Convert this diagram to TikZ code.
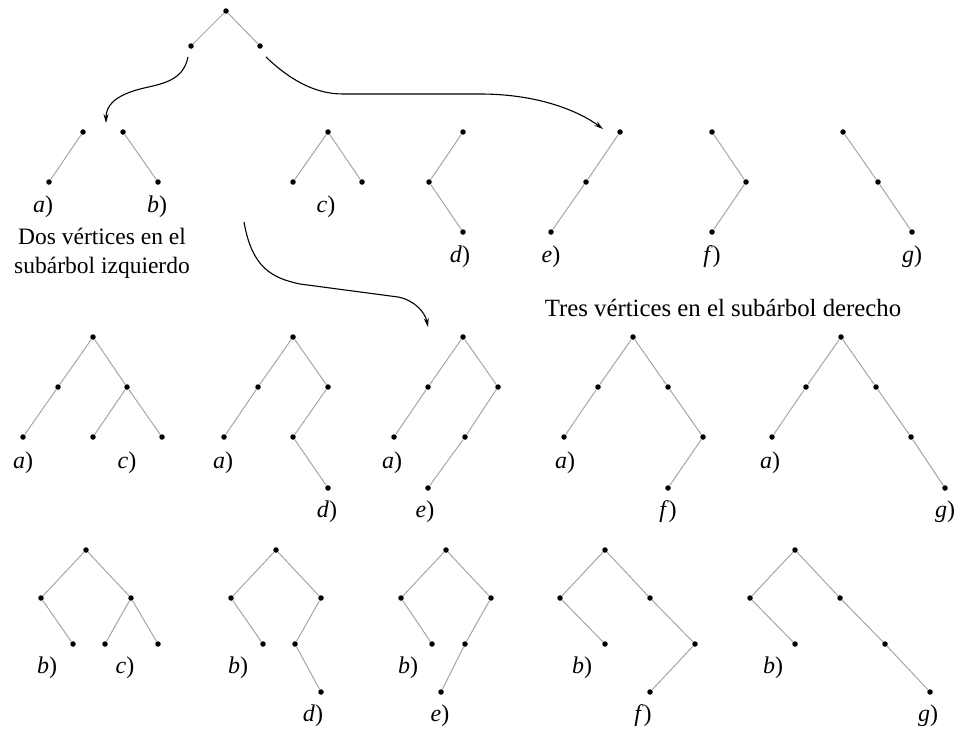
\documentclass[tikz,border=0pt]{standalone}
\usepackage{fontspec}
\setmainfont{Liberation Serif}
\usetikzlibrary{arrows.meta}
\tikzset{
  dot/.style={circle,fill=black,inner sep=0pt,minimum size=5.5pt},
  edge/.style={draw=black!35,line width=1pt},
  lbl/.style={inner sep=0pt,font=\fontsize{24}{27}\selectfont},
  captxt/.style={inner sep=0pt,align=center,font=\fontsize{23.5}{29}\selectfont},
  arr/.style={line width=1.1pt,-{Stealth[length=9pt,width=5pt]}}
}
\newcommand{\lab}[3]{\node[lbl] (#1) at (#2) {\textit{#3})};}
\begin{document}
\begin{tikzpicture}[x=1pt,y=-1pt]
\useasboundingbox (0,0) rectangle (957,731);
% top tree
\node[dot] (r0) at (226,11) {};
\node[dot] (r0l) at (191,46) {};
\node[dot] (r0r) at (260,46) {};
\draw[edge] (r0) -- (r0l); \draw[edge] (r0) -- (r0r);
% row 1
\node[dot] (a1) at (83,132) {}; \node[dot] (a2) at (49,182) {};
\draw[edge] (a1) -- (a2); \lab{la}{43,207}{a}
\node[dot] (b1) at (123,132) {}; \node[dot] (b2) at (158,182) {};
\draw[edge] (b1) -- (b2); \lab{lb}{157,207}{b}
\node[dot] (c1) at (328,132) {}; \node[dot] (c2) at (293,182) {}; \node[dot] (c3) at (362,182) {};
\draw[edge] (c1) -- (c2); \draw[edge] (c1) -- (c3); \lab{lc}{326,207}{c}
\node[dot] (d1) at (463,132) {}; \node[dot] (d2) at (429,182) {}; \node[dot] (d3) at (463,232) {};
\draw[edge] (d1) -- (d2) -- (d3); \lab{ld}{460,257}{d}
\node[dot] (e1) at (620,132) {}; \node[dot] (e2) at (586,182) {}; \node[dot] (e3) at (551,232) {};
\draw[edge] (e1) -- (e2) -- (e3); \lab{le}{551,257}{e}
\node[dot] (f1) at (712,132) {}; \node[dot] (f2) at (746,182) {}; \node[dot] (f3) at (712,232) {};
\draw[edge] (f1) -- (f2) -- (f3); \lab{lf}{712,257}{f}
\node[dot] (g1) at (843,132) {}; \node[dot] (g2) at (878,182) {}; \node[dot] (g3) at (912,232) {};
\draw[edge] (g1) -- (g2) -- (g3); \lab{lg}{912,257}{g}
% captions
\node[captxt] (dos) at (102,253) {Dos vértices en el\\subárbol izquierdo};
\node[captxt,font=\fontsize{24.8}{29}\selectfont] (tres) at (723,308) {Tres vértices en el subárbol derecho};
% arrows
\coordinate (s1) at (188,57); \coordinate (t1) at (106,123);
\draw[arr] (s1) .. controls (183,82) and (160,84) .. (140,89) .. controls (114,96) and (106,106) .. (t1);
\coordinate (s2) at (266,57); \coordinate (m2) at (343,94); \coordinate (n2) at (480,94); \coordinate (t2) at (603,129);
\draw[arr] (s2) .. controls (290,80) and (315,94) .. (m2) -- (n2) .. controls (540,94) and (580,112) .. (t2);
\coordinate (s3) at (244,222); \coordinate (t3) at (428,327);
\draw[arr] (s3) .. controls (252,268) and (272,278) .. (300,284) -- (398,297) .. controls (414,300) and (425,312) .. (t3);
% row 2
\node[dot] (p1r) at (93,337) {}; \node[dot] (p1l) at (58,387) {}; \node[dot] (p1R) at (127,387) {};
\node[dot] (p1ll) at (23,437) {}; \node[dot] (p1rl) at (93,437) {}; \node[dot] (p1rr) at (162,437) {};
\draw[edge] (p1ll) -- (p1l) -- (p1r) -- (p1R) -- (p1rr); \draw[edge] (p1R) -- (p1rl);
\lab{p1a}{23,463}{a} \lab{p1c}{127,463}{c}
\node[dot] (p2r) at (293,337) {}; \node[dot] (p2l) at (258,387) {}; \node[dot] (p2R) at (328,387) {};
\node[dot] (p2ll) at (224,437) {}; \node[dot] (p2rl) at (293,437) {}; \node[dot] (p2rlr) at (328,488) {};
\draw[edge] (p2ll) -- (p2l) -- (p2r) -- (p2R) -- (p2rl) -- (p2rlr);
\lab{p2a}{223,463}{a} \lab{p2d}{327,512}{d}
\node[dot] (p3r) at (463,337) {}; \node[dot] (p3l) at (428,387) {}; \node[dot] (p3R) at (498,387) {};
\node[dot] (p3ll) at (394,437) {}; \node[dot] (p3rl) at (465,437) {}; \node[dot] (p3rll) at (428,488) {};
\draw[edge] (p3ll) -- (p3l) -- (p3r) -- (p3R) -- (p3rl) -- (p3rll);
\lab{p3a}{392,463}{a} \lab{p3e}{425,512}{e}
\node[dot] (p4r) at (633,337) {}; \node[dot] (p4l) at (598,387) {}; \node[dot] (p4R) at (668,387) {};
\node[dot] (p4ll) at (564,437) {}; \node[dot] (p4rr) at (703,437) {}; \node[dot] (p4rrl) at (668,488) {};
\draw[edge] (p4ll) -- (p4l) -- (p4r) -- (p4R) -- (p4rr) -- (p4rrl);
\lab{p4a}{565,463}{a} \lab{p4f}{668,512}{f}
\node[dot] (p5r) at (841,337) {}; \node[dot] (p5l) at (806,387) {}; \node[dot] (p5R) at (876,387) {};
\node[dot] (p5ll) at (772,437) {}; \node[dot] (p5rr) at (911,437) {}; \node[dot] (p5rrr) at (945,488) {};
\draw[edge] (p5ll) -- (p5l) -- (p5r) -- (p5R) -- (p5rr) -- (p5rrr);
\lab{p5a}{770,463}{a} \lab{p5g}{945,512}{g}
% row 3
\node[dot] (q1r) at (86,550) {}; \node[dot] (q1l) at (41,598) {}; \node[dot] (q1R) at (131,598) {};
\node[dot] (q1lr) at (73,644) {}; \node[dot] (q1rl) at (105,644) {}; \node[dot] (q1rr) at (158,644) {};
\draw[edge] (q1lr) -- (q1l) -- (q1r) -- (q1R) -- (q1rr); \draw[edge] (q1R) -- (q1rl);
\lab{q1b}{47,668}{b} \lab{q1c}{125,668}{c}
\node[dot] (q2r) at (276,550) {}; \node[dot] (q2l) at (231,598) {}; \node[dot] (q2R) at (321,598) {};
\node[dot] (q2lr) at (263,644) {}; \node[dot] (q2rl) at (295,644) {}; \node[dot] (q2rlr) at (321,692) {};
\draw[edge] (q2lr) -- (q2l) -- (q2r) -- (q2R) -- (q2rl) -- (q2rlr);
\lab{q2b}{238,668}{b} \lab{q2d}{313,716}{d}
\node[dot] (q3r) at (446,550) {}; \node[dot] (q3l) at (401,598) {}; \node[dot] (q3R) at (491,598) {};
\node[dot] (q3lr) at (432,644) {}; \node[dot] (q3rl) at (465,644) {}; \node[dot] (q3rll) at (441,692) {};
\draw[edge] (q3lr) -- (q3l) -- (q3r) -- (q3R) -- (q3rl) -- (q3rll);
\lab{q3b}{408,668}{b} \lab{q3e}{440,716}{e}
\node[dot] (q4r) at (605,550) {}; \node[dot] (q4l) at (560,598) {}; \node[dot] (q4R) at (650,598) {};
\node[dot] (q4lr) at (605,644) {}; \node[dot] (q4rr) at (695,644) {}; \node[dot] (q4rrl) at (650,692) {};
\draw[edge] (q4lr) -- (q4l) -- (q4r) -- (q4R) -- (q4rr) -- (q4rrl);
\lab{q4b}{582,668}{b} \lab{q4f}{643,716}{f}
\node[dot] (q5r) at (795,550) {}; \node[dot] (q5l) at (750,598) {}; \node[dot] (q5R) at (840,598) {};
\node[dot] (q5lr) at (795,644) {}; \node[dot] (q5rr) at (885,644) {}; \node[dot] (q5rrr) at (930,692) {};
\draw[edge] (q5lr) -- (q5l) -- (q5r) -- (q5R) -- (q5rr) -- (q5rrr);
\lab{q5b}{773,668}{b} \lab{q5g}{928,716}{g}
\end{tikzpicture}
\end{document}
